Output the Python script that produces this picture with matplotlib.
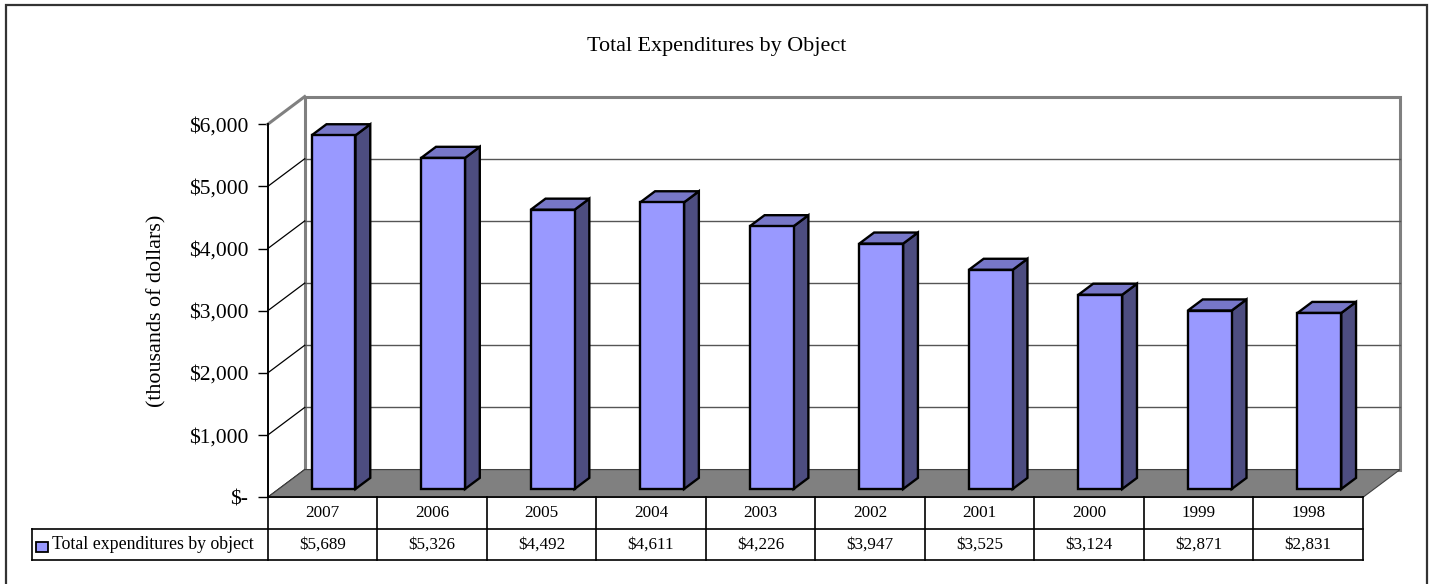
import matplotlib
matplotlib.use("Agg")
import matplotlib.pyplot as plt
from matplotlib.patches import Polygon, Rectangle
from matplotlib.transforms import blended_transform_factory
import numpy as np

# ---- data ----
years = ["2007", "2006", "2005", "2004", "2003", "2002", "2001", "2000", "1999", "1998"]
values = [5689, 5326, 4492, 4611, 4226, 3947, 3525, 3124, 2871, 2831]
value_labels = ["$5,689", "$5,326", "$4,492", "$4,611", "$4,226", "$3,947", "$3,525", "$3,124", "$2,871", "$2,831"]
yticks = [0, 1000, 2000, 3000, 4000, 5000, 6000]
ytick_labels = ["$-", "$1,000", "$2,000", "$3,000", "$4,000", "$5,000", "$6,000"]
series_name = "Total expenditures by object"
title = "Total Expenditures by Object"
ylabel = "(thousands of dollars)"

W, H = 1434, 584
plt.rcParams['font.family'] = ['Liberation Serif', 'DejaVu Serif']
fig = plt.figure(figsize=(W / 100, H / 100), dpi=100)

def fx(px):
    return px / W

def fy(py):
    return 1 - py / H

# front plane of the plot
left_px, right_px, zero_px, top_px = 267.7, 1363.0, 497.3, 124.3
ax = fig.add_axes([fx(left_px), fy(zero_px), fx(right_px - left_px), (zero_px - top_px) / H])
n = len(years)
ymax = 6000
ax.set_xlim(0, n)
ax.set_ylim(0, ymax)
for s in ax.spines.values():
    s.set_visible(False)
ax.set_xticks([])

# depth offsets (in data units)
px_per_cat = (right_px - left_px) / n
px_per_val = (zero_px - top_px) / ymax
DX = 37.0 / px_per_cat
DY = 27.7 / px_per_val

gray = "#808080"
# back wall
ax.add_patch(Polygon([(DX, DY), (n + DX, DY), (n + DX, ymax + DY), (DX, ymax + DY)],
                     closed=True, facecolor="white", edgecolor=gray, lw=2.2, zorder=1, clip_on=False))
# gridlines on back wall
for v in yticks[1:-1]:
    ax.plot([DX, n + DX], [v + DY, v + DY], color="#555555", lw=1.0, zorder=2, clip_on=False)
# left wall diagonals
for v in yticks[:-1]:
    ax.plot([0, DX], [v, v + DY], color="black", lw=0.9, zorder=2, clip_on=False)
ax.plot([0, DX], [ymax, ymax + DY], color=gray, lw=2.2, zorder=2, clip_on=False)
# floor
ax.add_patch(Polygon([(0, 0), (n, 0), (n + DX, DY), (DX, DY)], closed=True,
                     facecolor=gray, edgecolor="#404040", lw=0.8, zorder=3, clip_on=False))

# bars
f0, dd, bw = 0.3, 0.4, 0.4
front_c = "#9999FF"
top_c = "#7777C8"
side_c = "#4D4D80"
centers = np.arange(n) + 0.5 + f0 * DX
base = f0 * DY
for i, v in enumerate(values):
    xl = centers[i] - bw / 2
    xr = centers[i] + bw / 2
    top = base + v
    side = Polygon([(xr, base), (xr + dd * DX, base + dd * DY), (xr + dd * DX, top + dd * DY), (xr, top)],
                   closed=True, facecolor=side_c, edgecolor="black", lw=1.7, zorder=4 + i * 0.01,
                   clip_on=False, joinstyle="miter")
    tp = Polygon([(xl, top), (xr, top), (xr + dd * DX, top + dd * DY), (xl + dd * DX, top + dd * DY)],
                 closed=True, facecolor=top_c, edgecolor="black", lw=1.7, zorder=4 + i * 0.01,
                 clip_on=False, joinstyle="miter")
    ax.add_patch(side)
    ax.add_patch(tp)
ax.bar(centers, values, width=bw, bottom=base, color=front_c, edgecolor="black", lw=1.7,
       zorder=5, clip_on=False)

# y axis
ax.plot([0, 0], [0, ymax], color="black", lw=1.2, zorder=6, clip_on=False)
ax.set_yticks(yticks)
ax.set_yticklabels(ytick_labels, fontsize=15.5)
ax.tick_params(axis='y', length=7, width=1.0, pad=7, color="black")
ax.yaxis.set_ticks_position('left')
ax.spines['left'].set_visible(True)
ax.spines['left'].set_linewidth(1.2)

# title and y label
fig.text(fx(717), fy(46), title, ha="center", va="center", fontsize=15.9)
fig.text(fx(157), fy(311), ylabel, ha="center", va="center", rotation=90, fontsize=15.9)

# data table
bt = blended_transform_factory(ax.transData, fig.transFigure)
r0, r1, r2 = fy(497.3), fy(529.0), fy(560.0)
lk = dict(color="black", lw=1.2, transform=bt, clip_on=False)
leg_left = (32 - left_px) / px_per_cat
fig.add_artist(plt.Line2D([0, n], [r0, r0], **lk))
fig.add_artist(plt.Line2D([leg_left, n], [r1, r1], **lk))
fig.add_artist(plt.Line2D([leg_left, n], [r2, r2], **lk))
fig.add_artist(plt.Line2D([leg_left, leg_left], [r1, r2], **lk))
for k in range(n + 1):
    fig.add_artist(plt.Line2D([k, k], [r0, r2], **lk))
for i in range(n):
    fig.text(i + 0.5, (r0 + r1) / 2, years[i], transform=bt, ha="center", va="center", fontsize=12.3)
    fig.text(i + 0.5, (r1 + r2) / 2, value_labels[i], transform=bt, ha="center", va="center", fontsize=12.3)
fig.add_artist(Rectangle((fx(36), fy(551.7)), fx(12), 10 / H, facecolor=front_c, edgecolor="black",
                         lw=1.3, transform=fig.transFigure))
fig.text(fx(52), (r1 + r2) / 2, series_name, ha="left", va="center", fontsize=12.8)

# outer frame
fig.add_artist(Rectangle((fx(5.5), fy(590)), fx(1427.3 - 5.5), (590 - 5.3) / H, facecolor="none",
                         edgecolor="#333333", lw=1.6, transform=fig.transFigure, clip_on=False))

fig.savefig("out.png", dpi=100)
